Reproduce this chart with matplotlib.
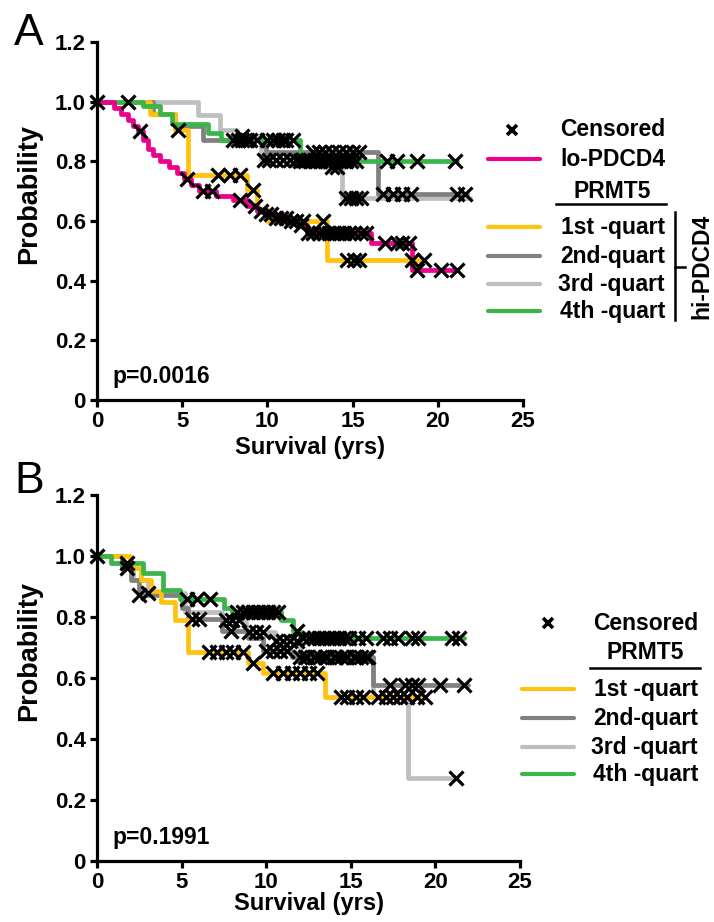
import numpy as np
import matplotlib
matplotlib.use("Agg")
import matplotlib.pyplot as plt

plt.rcParams['font.family'] = ['Liberation Sans', 'DejaVu Sans']
plt.rcParams['font.weight'] = 'bold'
plt.rcParams['axes.labelweight'] = 'bold'

groups = ["1st -quart", "2nd-quart", "3rd -quart", "4th -quart"]
x_ticks = [0, 5, 10, 15, 20, 25]
y_ticks = [0, 0.2, 0.4, 0.6, 0.8, 1.0, 1.2]
p_values = ["p=0.0016", "p=0.1991"]

PINK = "#EC008C"
COLS = ["#FFC20E", "#808080", "#BEBEBE", "#3AB54A"]

# ---- panel A: lo-PDCD4 plus hi-PDCD4 split by PRMT5 quartile ----
a_lo_t = [0, 1.0, 1.4, 1.8, 2.1, 2.4, 2.7, 3.0, 3.3, 3.7, 4.2, 4.7, 5.1, 5.5, 6.0,
          7.0, 8.0, 8.8, 9.4, 9.9, 10.5, 11.2, 11.8, 12.3, 16.1, 18.5]
a_lo_s = [1.0, 0.98, 0.96, 0.94, 0.92, 0.90, 0.87, 0.84, 0.82, 0.80, 0.78, 0.76, 0.74,
          0.72, 0.70, 0.685, 0.67, 0.65, 0.635, 0.625, 0.61, 0.60, 0.585, 0.56, 0.525, 0.435]
a_lo_end = 21.1
a_lo_cens = [0, 2.5, 5.3, 6.2, 6.75, 8.4, 9.3, 9.6, 9.9, 10.2, 10.5, 10.8, 11.1, 11.4,
             11.7, 12.0, 12.4, 12.7, 13.0, 13.3, 13.6, 13.9, 14.2, 14.5, 14.8, 15.1,
             15.5, 15.8, 16.9, 17.6, 17.9, 18.3, 18.8, 20.2, 21.1]

a_q1_t = [0, 3.1, 4.6, 5.35, 8.8, 9.4, 10.0, 13.5]
a_q1_s = [1.0, 0.96, 0.905, 0.755, 0.705, 0.64, 0.60, 0.47]
a_q1_end = 19.2
a_q1_cens = [4.75, 7.1, 7.8, 8.4, 9.15, 12.1, 13.25, 14.7, 15.1, 15.4, 18.5, 19.2]

a_q2_t = [0, 3.3, 4.6, 6.2, 9.9, 16.5]
a_q2_s = [1.0, 0.96, 0.92, 0.872, 0.83, 0.69]
a_q2_end = 21.7
a_q2_cens = [8.3, 8.8, 12.7, 13.0, 13.4, 13.8, 14.2, 14.6, 15.0, 15.4,
             16.8, 17.4, 17.9, 18.4, 21.1, 21.6]

a_q3_t = [0, 5.9, 7.2, 8.2, 9.6, 13.2, 14.4]
a_q3_s = [1.0, 0.955, 0.905, 0.885, 0.805, 0.78, 0.677]
a_q3_end = 21.9
a_q3_cens = [8.5, 9.8, 10.1, 10.5, 10.9, 11.3, 11.7, 12.1, 12.5, 12.9, 13.8, 14.1,
             14.6, 14.9, 15.2, 15.5]

a_q4_t = [0, 2.7, 3.7, 4.4, 6.5, 7.3, 11.9]
a_q4_s = [1.0, 0.985, 0.96, 0.925, 0.895, 0.87, 0.80]
a_q4_end = 21.1
a_q4_cens = [1.8, 8.0, 8.5, 9.0, 9.4, 9.97, 10.3, 10.6, 10.9, 11.1, 11.5, 11.9,
             12.2, 12.5, 12.8, 13.1, 13.4, 13.7, 14.0, 14.3, 14.6, 14.9, 15.2,
             17.0, 17.6, 18.8, 21.0]

# ---- panel B: PRMT5 quartiles only ----
b_q1_t = [0, 1.95, 2.6, 3.2, 3.8, 4.6, 5.35, 8.9, 9.8, 13.5]
b_q1_s = [1.0, 0.96, 0.92, 0.885, 0.85, 0.79, 0.685, 0.65, 0.616, 0.538]
b_q1_end = 19.4
b_q1_cens = [6.6, 7.1, 7.6, 8.05, 8.6, 9.2, 10.4, 11.0, 11.5, 12.0, 12.5, 13.0,
             14.4, 14.8, 15.3, 15.7, 18.3, 18.9, 19.4]

b_q2_t = [0, 1.5, 2.0, 2.5, 5.0, 5.4, 7.4, 8.9, 9.8, 11.5, 16.3]
b_q2_s = [1.0, 0.96, 0.92, 0.872, 0.83, 0.795, 0.755, 0.73, 0.69, 0.669, 0.577]
b_q2_end = 21.9
b_q2_cens = [1.8, 2.5, 5.6, 6.0, 7.9, 10.0, 10.4, 10.8, 11.2, 12.0, 12.4, 12.8,
             13.2, 13.6, 14.0, 14.4, 14.8, 15.2, 15.6, 16.0, 17.3, 18.2, 18.6,
             19.0, 20.3, 21.7]

b_q3_t = [0, 1.5, 2.1, 3.0, 5.2, 7.4, 8.8, 10.5, 12.0, 16.3, 18.4]
b_q3_s = [1.0, 0.96, 0.92, 0.879, 0.816, 0.79, 0.75, 0.72, 0.669, 0.538, 0.272]
b_q3_end = 21.2
b_q3_cens = [3.0, 7.6, 8.0, 8.4, 9.0, 9.4, 9.8, 10.6, 11.0, 11.4, 11.8, 12.3,
             12.9, 13.5, 14.1, 14.7, 15.3, 15.9, 16.6, 17.1, 17.5, 17.9, 21.2]

b_q4_t = [0, 0.8, 2.7, 3.9, 4.9, 7.5, 8.0, 10.9, 11.6, 12.0]
b_q4_s = [1.0, 0.977, 0.944, 0.89, 0.86, 0.83, 0.815, 0.79, 0.755, 0.731]
b_q4_end = 21.7
b_q4_cens = [0, 1.8, 5.3, 5.9, 6.7, 8.3, 8.6, 8.9, 9.2, 9.5, 9.8, 10.1, 10.4, 10.7,
             11.8, 12.2, 12.5, 12.8, 13.1, 13.4, 13.7, 14.0, 14.3, 14.6, 14.9,
             15.4, 15.9, 16.9, 17.3, 17.8, 18.6, 19.0, 21.0, 21.4]

W, H = 714, 922


def box(l, t, r, b):
    return [l / W, 1 - b / H, (r - l) / W, (b - t) / H]


def km(ax, t, s, end, cens, color, z):
    ax.step(list(t) + [end], list(s) + [s[-1]], where="post", color=color, lw=3.4,
            zorder=z, clip_on=False, solid_joinstyle="round", solid_capstyle="round")
    cy = np.asarray(s)[np.searchsorted(t, cens, side="right") - 1]
    ax.plot(cens, cy, ls="none", marker="x", ms=10, mew=2.3, color="black",
            zorder=10, clip_on=False)


def style(ax, ptxt, xlab_y):
    ax.set_xlim(0, 25)
    ax.set_ylim(0, 1.2)
    ax.set_xticks(x_ticks)
    ax.set_yticks(y_ticks)
    ax.set_yticklabels(["0"] + ["%.1f" % v for v in y_ticks[1:]])
    for sp in ["top", "right"]:
        ax.spines[sp].set_visible(False)
    for sp in ["left", "bottom"]:
        ax.spines[sp].set_linewidth(2.3)
    ax.tick_params(direction="out", length=5, width=2.3, labelsize=16, pad=3)
    ax.set_xlabel("Survival (yrs)", fontsize=17, va="center")
    ax.xaxis.set_label_coords(0.5, xlab_y)
    ax.set_ylabel("Probability", fontsize=19.5, va="center")
    ax.yaxis.set_label_coords(-0.16, 0.575)
    ax.text(0.037, 0.065, ptxt, transform=ax.transAxes, fontsize=16.5, va="center")
    ax.patch.set_alpha(0)


fig = plt.figure(figsize=(W / 100, H / 100), dpi=100)

axA = fig.add_axes(box(97, 42, 523, 400))
km(axA, a_q3_t, a_q3_s, a_q3_end, a_q3_cens, COLS[2], 2)
km(axA, a_q2_t, a_q2_s, a_q2_end, a_q2_cens, COLS[1], 3)
km(axA, a_q1_t, a_q1_s, a_q1_end, a_q1_cens, COLS[0], 4)
km(axA, a_q4_t, a_q4_s, a_q4_end, a_q4_cens, COLS[3], 5)
km(axA, a_lo_t, a_lo_s, a_lo_end, a_lo_cens, PINK, 6)
style(axA, p_values[0], -0.133)

axB = fig.add_axes(box(97, 495, 520, 861))
km(axB, b_q3_t, b_q3_s, b_q3_end, b_q3_cens, COLS[2], 2)
km(axB, b_q2_t, b_q2_s, b_q2_end, b_q2_cens, COLS[1], 3)
km(axB, b_q1_t, b_q1_s, b_q1_end, b_q1_cens, COLS[0], 4)
km(axB, b_q4_t, b_q4_s, b_q4_end, b_q4_cens, COLS[3], 5)
style(axB, p_values[1], -0.115)

# overlay in pixel coordinates for panel letters and legends
ov = fig.add_axes([0, 0, 1, 1])
ov.set_xlim(0, W)
ov.set_ylim(H, 0)
ov.axis("off")
ov.set_zorder(-1)

ov.text(14, 45, "A", fontsize=32, fontweight="normal", va="baseline")
ov.text(14, 493, "B", fontsize=32, fontweight="normal", va="baseline")

LFS = 16.5
# legend A
ov.plot([512], [130], marker="x", ms=7.5, mew=2.6, color="black")
ov.text(665, 130, "Censored", ha="right", va="center", fontsize=LFS)
ov.plot([488, 540], [159, 159], color=PINK, lw=3, solid_capstyle="round")
ov.text(665, 159, "lo-PDCD4", ha="right", va="center", fontsize=LFS)
ov.text(612, 191, "PRMT5", ha="center", va="center", fontsize=LFS)
ov.plot([556, 666], [204, 204], color="black", lw=1.8)
for g, c, y in zip(groups, COLS, [227, 256, 284, 311]):
    ov.plot([488, 540], [y, y], color=c, lw=3, solid_capstyle="round")
    ov.text(665, y, g, ha="right", va="center", fontsize=LFS)
ov.plot([675, 675], [212, 320], color="black", lw=1.8)
ov.plot([675, 685], [267, 267], color="black", lw=1.8)
ov.text(702, 266, "hi-PDCD4", rotation=90, ha="center", va="center", fontsize=LFS)

# legend B
ov.plot([548], [623], marker="x", ms=7.5, mew=2.6, color="black")
ov.text(698, 623, "Censored", ha="right", va="center", fontsize=LFS)
ov.text(645, 652, "PRMT5", ha="center", va="center", fontsize=LFS)
ov.plot([590, 700], [668, 668], color="black", lw=1.8)
for g, c, y in zip(groups, COLS, [689, 718, 747, 774]):
    ov.plot([522, 574], [y, y], color=c, lw=3, solid_capstyle="round")
    ov.text(698, y, g, ha="right", va="center", fontsize=LFS)

fig.savefig("out.png", dpi=100)
